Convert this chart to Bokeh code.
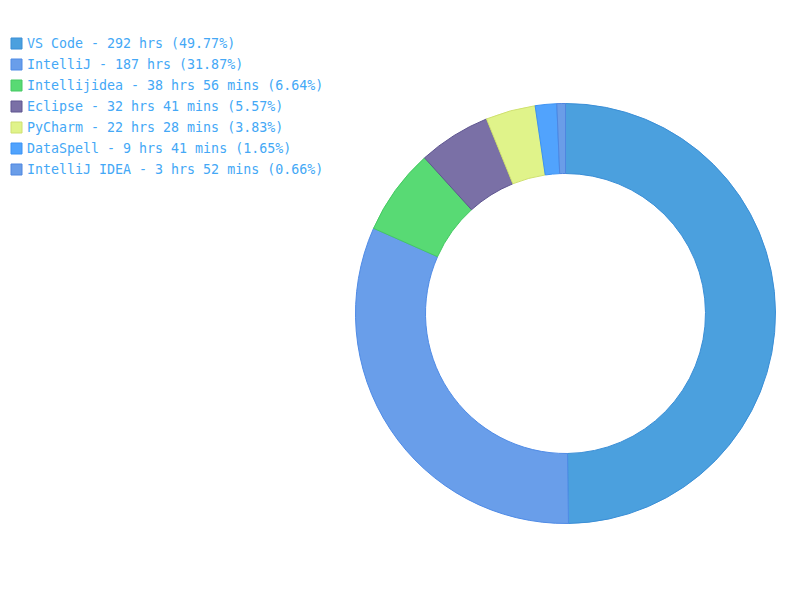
import numpy as np
from bokeh.plotting import figure
from bokeh.models import ColumnDataSource
from bokeh.core.properties import value
from bokeh.embed import file_html
from bokeh.resources import INLINE

names = ["VS Code", "IntelliJ", "Intellijidea", "Eclipse", "PyCharm", "DataSpell", "IntelliJ IDEA"]
durations = ["292 hrs", "187 hrs", "38 hrs 56 mins", "32 hrs 41 mins", "22 hrs 28 mins", "9 hrs 41 mins", "3 hrs 52 mins"]
percents = [49.77, 31.87, 6.64, 5.57, 3.83, 1.65, 0.66]
colors = ["#4ba0de", "#699eea", "#58da74", "#7a70a6", "#e0f38a", "#51a3fd", "#6a9de8"]
borders = ["#3a8ed6", "#4f8be6", "#45c962", "#5e5590", "#cfe070", "#3a92f5", "#4f86e0"]

frac = np.array(percents) / sum(percents)
ends = np.cumsum(frac)
starts = ends - frac
start_angle = np.pi / 2 - starts * 2 * np.pi
end_angle = np.pi / 2 - ends * 2 * np.pi

W, H = 784, 584
p = figure(width=W, height=H, x_range=(0, 784), y_range=(16, 600),
           output_backend="svg", toolbar_location=None, min_border=0)
p.axis.visible = False
p.grid.visible = False
p.outline_line_color = None
p.background_fill_color = "white"

cx, cy = 565, 600 - 313
src = ColumnDataSource(dict(s=start_angle, e=end_angle, c=colors, b=borders))
p.annular_wedge(x=cx, y=cy, inner_radius=140, outer_radius=210,
                start_angle="s", end_angle="e", direction="clock",
                fill_color="c", line_color="b", line_width=1, source=src)

labels = [f"{n} - {d} ({pc:.2f}%)" for n, d, pc in zip(names, durations, percents)]
idx = np.arange(len(names))
ly = 600 - (43 + 21 * idx)
lsrc = ColumnDataSource(dict(y=ly, c=colors, b=borders, t=labels))
p.rect(x=16, y="y", width=11, height=11, fill_color="c", line_color="b", line_width=1, source=lsrc)
p.text(x=26.5, y="y", text="t", text_font=value("DejaVu Sans Mono"), text_font_size="13.3px",
       text_color="#44a8f6", text_baseline="middle", text_align="left", source=lsrc)

open("out.html", "w").write(file_html(p, INLINE))
